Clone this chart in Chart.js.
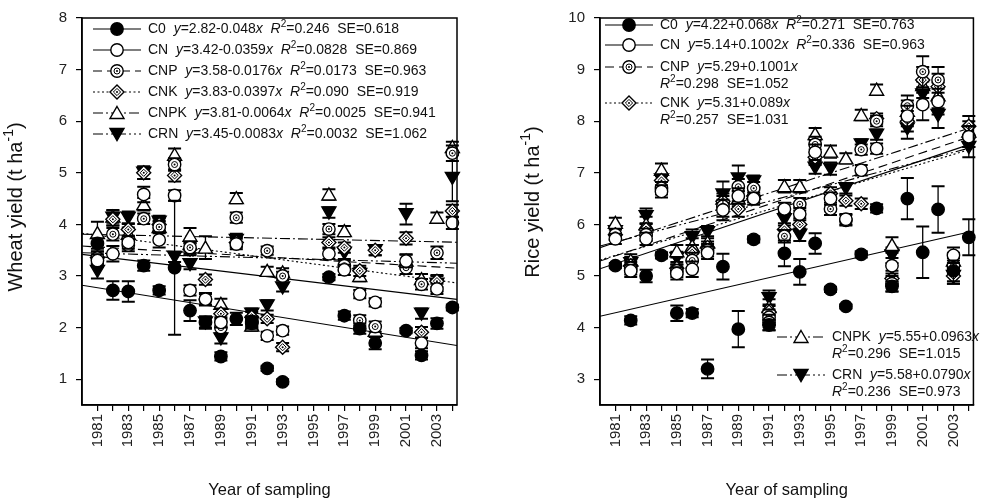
<!DOCTYPE html>
<html>
<head>
<meta charset="utf-8">
<script src="https://cdn.jsdelivr.net/npm/chart.js@4.4.0/dist/chart.umd.min.js"></script>
<style>
  html, body { margin: 0; padding: 0; background: #fff; }
  #wrap { position: relative; width: 990px; height: 500px; }
  canvas { position: absolute; top: 0; }
</style>
</head>
<body>
<div id="wrap">
  <canvas id="wheat" width="495" height="500" style="left:0"></canvas>
  <canvas id="rice" width="495" height="500" style="left:495px"></canvas>
</div>
<script>
// sampling years (null = no sample that year)
const years = [1981, 1982, 1983, 1984, 1985, 1986, 1987, 1988, 1989, 1990, 1991, 1992,
               1993, 1994, 1995, 1996, 1997, 1998, 1999, 2000, 2001, 2002, 2003, 2004];
const treatments = ['C0', 'CN', 'CNP', 'CNK', 'CNPK', 'CRN'];

// wheat yield, t/ha
const wheatC0   = [3.63, 2.72, 2.70, 3.20, 2.72, 3.16, 2.33, 2.10, 1.44, 2.17, 2.10, 1.21, 0.95, null, null, 2.98, 2.23, 1.98, 1.70, null, 1.94, 1.46, 2.08, 2.39];
const wheatCN   = [3.30, 3.43, 3.65, 4.58, 3.70, 4.56, 2.72, 2.55, 2.10, 3.62, 2.12, 1.84, 1.94, null, null, 3.43, 3.12, 2.65, 2.49, null, 3.29, 1.70, 2.75, 4.03];
const wheatCNP  = [3.35, 3.81, 3.60, 4.11, 3.95, 5.16, 3.55, 2.55, 2.00, 4.13, 2.08, 3.49, 3.00, null, null, 3.91, 3.20, 2.14, 2.02, null, 3.16, 2.84, 3.45, 5.38];
const wheatCNK  = [3.36, 4.10, 3.90, 5.00, 4.00, 4.95, 3.52, 2.93, 2.27, 3.65, 2.20, 2.17, 1.62, null, null, 3.65, 3.55, 3.10, 3.50, null, 3.73, 1.91, 2.90, 4.26];
const wheatCNPK = [3.83, 4.15, 3.82, 4.39, 3.95, 5.35, 3.78, 3.55, 2.46, 4.51, 2.04, 3.10, 3.07, null, null, 4.58, 3.87, 3.00, 1.94, null, 3.30, 2.94, 4.13, 5.50];
const wheatCRN  = [3.10, 4.13, 4.13, 5.00, 4.05, 3.37, 3.23, 2.10, 1.79, 3.70, 2.27, 2.43, 2.78, null, null, 4.23, 3.45, 3.04, 3.50, null, 4.20, 2.27, 2.85, 4.90];

// wheat standard errors
const wheatC0Err   = [0.10, 0.18, 0.20, 0.10, 0.08, 1.30, 0.20, 0.12, 0.08, 0.12, 0.10, 0.05, 0.05, null, null, 0.06, 0.08, 0.10, 0.12, null, 0.05, 0.08, 0.10, 0.06];
const wheatCNErr   = [0.12, 0.15, 0.12, 0.15, 0.15, 0.10, 0.10, 0.10, 0.10, 0.10, 0.10, 0.08, 0.08, null, null, 0.10, 0.10, 0.08, 0.08, null, 0.12, 0.10, 0.10, 0.12];
const wheatCNPErr  = [0.12, 0.12, 0.12, 0.10, 0.12, 0.12, 0.12, 0.12, 0.12, 0.10, 0.10, 0.08, 0.08, null, null, 0.10, 0.10, 0.10, 0.10, null, 0.12, 0.10, 0.12, 0.15];
const wheatCNKErr  = [0.12, 0.12, 0.12, 0.12, 0.12, 0.12, 0.12, 0.10, 0.10, 0.10, 0.10, 0.08, 0.08, null, null, 0.10, 0.10, 0.10, 0.10, null, 0.12, 0.10, 0.12, 0.12];
const wheatCNPKErr = [0.22, 0.12, 0.12, 0.12, 0.10, 0.12, 0.15, 0.22, 0.10, 0.10, 0.10, 0.08, 0.08, null, null, 0.10, 0.10, 0.10, 0.10, null, 0.12, 0.10, 0.10, 0.10];
const wheatCRNErr  = [0.15, 0.15, 0.12, 0.12, 0.12, 0.10, 0.10, 0.10, 0.10, 0.12, 0.10, 0.10, 0.08, null, null, 0.10, 0.12, 0.12, 0.10, null, 0.20, 0.10, 0.15, 0.45];

// rice yield, t/ha
const riceC0   = [5.20, 4.14, 5.00, 5.40, 4.28, 4.28, 3.20, 5.18, 3.97, 5.71, 4.05, 5.44, 5.08, 5.63, 4.74, 4.41, 5.42, 6.31, 4.80, 6.50, 5.46, 6.29, 5.10, 5.75];
const riceCN   = [5.72, 5.10, 5.72, 6.64, 5.05, 5.13, 5.45, 6.28, 6.55, 6.50, 4.10, 6.30, 6.20, 7.40, 6.50, 6.10, 7.05, 7.47, 5.20, 8.10, 8.32, 8.38, 5.40, 7.70];
const riceCNP  = [5.80, 5.15, 5.80, 6.70, 5.10, 5.30, 5.50, 6.35, 6.73, 6.70, 4.20, 5.77, 6.39, 7.55, 6.30, 6.08, 7.45, 8.00, 4.85, 8.30, 8.96, 8.80, 5.20, 7.70];
const riceCNK  = [5.80, 5.20, 5.90, 6.85, 5.15, 5.45, 5.55, 6.45, 6.30, 6.55, 4.30, 5.90, 6.00, 7.30, 6.60, 6.46, 6.40, 8.05, 4.95, 8.00, 8.80, 8.67, 5.00, 7.90];
const riceCNPK = [6.03, 5.30, 6.00, 7.06, 5.48, 5.58, 5.65, 6.50, 6.50, 6.60, 4.40, 6.74, 6.74, 7.75, 7.41, 7.28, 8.12, 8.61, 5.60, 8.20, 8.70, 8.50, 5.30, 7.80];
const riceCRN  = [5.87, 5.25, 6.16, 6.87, 5.35, 5.75, 5.85, 6.58, 6.89, 6.83, 4.57, 6.10, 5.80, 7.10, 7.08, 6.70, 7.55, 7.74, 5.40, 7.86, 8.52, 8.12, 5.00, 7.50];

// rice standard errors
const riceC0Err   = [0.05, 0.08, 0.12, 0.06, 0.15, 0.08, 0.18, 0.25, 0.35, 0.06, 0.10, 0.25, 0.25, 0.20, 0.05, 0.04, 0.06, 0.08, 0.10, 0.40, 0.50, 0.45, 0.20, 0.35];
const riceCNErr   = [0.10, 0.12, 0.12, 0.12, 0.12, 0.15, 0.12, 0.20, 0.15, 0.12, 0.15, 0.12, 0.12, 0.15, 0.12, 0.10, 0.10, 0.10, 0.15, 0.20, 0.30, 0.25, 0.15, 0.20];
const riceCNPErr  = [0.10, 0.12, 0.12, 0.12, 0.12, 0.15, 0.12, 0.20, 0.15, 0.12, 0.15, 0.12, 0.12, 0.15, 0.12, 0.10, 0.10, 0.10, 0.15, 0.20, 0.30, 0.25, 0.15, 0.20];
const riceCNKErr  = [0.10, 0.12, 0.12, 0.12, 0.12, 0.15, 0.12, 0.15, 0.15, 0.12, 0.15, 0.12, 0.12, 0.15, 0.12, 0.10, 0.10, 0.10, 0.15, 0.20, 0.25, 0.25, 0.15, 0.20];
const riceCNPKErr = [0.10, 0.12, 0.15, 0.12, 0.12, 0.15, 0.12, 0.15, 0.15, 0.12, 0.15, 0.12, 0.12, 0.12, 0.12, 0.10, 0.10, 0.10, 0.15, 0.20, 0.25, 0.25, 0.15, 0.20];
const riceCRNErr  = [0.10, 0.12, 0.15, 0.12, 0.12, 0.15, 0.12, 0.25, 0.25, 0.12, 0.15, 0.12, 0.12, 0.12, 0.12, 0.10, 0.10, 0.10, 0.15, 0.20, 0.25, 0.25, 0.15, 0.20];

// regression y = a + b*x, x = years since 1980
const wheatA  = [2.82, 3.42, 3.58, 3.83, 3.81, 3.45];
const wheatB  = ['-0.048', '-0.0359', '-0.0176', '-0.0397', '-0.0064', '-0.0083'];
const wheatR2 = ['0.246', '0.0828', '0.0173', '0.090', '0.0025', '0.0032'];
const wheatSE = ['0.618', '0.869', '0.963', '0.919', '0.941', '1.062'];

const riceA  = [4.22, 5.14, 5.29, 5.31, 5.55, 5.58];
const riceB  = ['0.068', '0.1002', '0.1001', '0.089', '0.0963', '0.0790'];
const riceR2 = ['0.271', '0.336', '0.298', '0.257', '0.296', '0.236'];
const riceSE = ['0.763', '0.963', '1.052', '1.031', '1.015', '0.973'];

const wheatTicks = [1, 2, 3, 4, 5, 6, 7, 8];
const riceTicks  = [3, 4, 5, 6, 7, 8, 9, 10];

const FONT = '"Liberation Sans", Arial, sans-serif';
const X_MIN = 1980, X_MAX = 2004.3;

const markerKinds = ['dot', 'open', 'dotCircle', 'dotDiamond', 'triUp', 'triDown'];
const lineDashes = [[], [], [9, 5], [2, 2.5], [10, 3, 2, 3], [10, 3, 2, 3, 2, 3]];

function drawMarker(g, kind, x, y) {
  g.save();
  g.lineWidth = 1.4;
  g.strokeStyle = '#000';
  g.fillStyle = (kind === 'dot' || kind === 'triDown') ? '#000' : '#fff';
  g.beginPath();
  if (kind === 'dot' || kind === 'open' || kind === 'dotCircle') {
    g.arc(x, y, 6.2, 0, Math.PI * 2);
  } else if (kind === 'dotDiamond') {
    g.moveTo(x, y - 7); g.lineTo(x + 7, y); g.lineTo(x, y + 7); g.lineTo(x - 7, y); g.closePath();
  } else if (kind === 'triUp') {
    g.moveTo(x, y - 6.5); g.lineTo(x + 7, y + 5.5); g.lineTo(x - 7, y + 5.5); g.closePath();
  } else {
    g.moveTo(x - 7, y - 5.5); g.lineTo(x + 7, y - 5.5); g.lineTo(x, y + 6.5); g.closePath();
  }
  g.fill(); g.stroke();
  if (kind === 'dotCircle') {
    g.beginPath(); g.arc(x, y, 3, 0, Math.PI * 2); g.lineWidth = 1; g.stroke();
    g.beginPath(); g.arc(x, y, 1, 0, Math.PI * 2); g.fillStyle = '#000'; g.fill();
  }
  if (kind === 'dotDiamond') {
    g.beginPath(); g.moveTo(x, y - 3.6); g.lineTo(x + 3.6, y); g.lineTo(x, y + 3.6); g.lineTo(x - 3.6, y); g.closePath();
    g.lineWidth = 1; g.stroke();
    g.beginPath(); g.arc(x, y, 1, 0, Math.PI * 2); g.fillStyle = '#000'; g.fill();
  }
  g.restore();
}

function drawRich(ctx, x, y, segs, size) {
  segs.forEach(([t, st]) => {
    let f = size + 'px ' + FONT, dy = 0;
    if (st === 'i') f = 'italic ' + f;
    if (st === 's') { f = Math.round(size * 0.72) + 'px ' + FONT; dy = -size * 0.36; }
    ctx.font = f;
    ctx.fillText(t, x, y + dy);
    x += ctx.measureText(t).width;
  });
  return x;
}
function richWidth(ctx, segs, size) {
  let w = 0;
  segs.forEach(([t, st]) => {
    let f = size + 'px ' + FONT;
    if (st === 'i') f = 'italic ' + f;
    if (st === 's') f = Math.round(size * 0.72) + 'px ' + FONT;
    ctx.font = f;
    w += ctx.measureText(t).width;
  });
  return w;
}

function eqSegs(name, a, b) {
  const bt = b.startsWith('-') ? b : '+' + b;
  return [[name + '  ', 'n'], ['y', 'i'], ['=' + a.toFixed(2) + bt, 'n'], ['x', 'i']];
}
function statSegs(r2, se) {
  return [['R', 'i'], ['2', 's'], ['=' + r2 + '  SE=' + se, 'n']];
}

// error bars under each series, markers on top (positions come from the chart's point elements)
const errorBars = {
  id: 'errorBars',
  beforeDatasetDraw(chart, args) {
    const ds = chart.data.datasets[args.index];
    if (!ds.kind) return;
    const ctx = chart.ctx, ys = chart.scales.y;
    ctx.save();
    ctx.strokeStyle = '#000';
    args.meta.data.forEach((el, i) => {
      const p = ds.data[i];
      if (!p.e) return;
      const x = el.x;
      const y1 = ys.getPixelForValue(p.y + p.e), y2 = ys.getPixelForValue(p.y - p.e);
      ctx.lineWidth = 1.3;
      ctx.beginPath(); ctx.moveTo(x, y1); ctx.lineTo(x, y2); ctx.stroke();
      ctx.lineWidth = 2;
      ctx.beginPath();
      ctx.moveTo(x - 6.5, y1); ctx.lineTo(x + 6.5, y1);
      ctx.moveTo(x - 6.5, y2); ctx.lineTo(x + 6.5, y2);
      ctx.stroke();
    });
    ctx.restore();
  },
  afterDatasetDraw(chart, args) {
    const ds = chart.data.datasets[args.index];
    if (!ds.kind) return;
    args.meta.data.forEach(el => drawMarker(chart.ctx, ds.kind, el.x, el.y));
  }
};

const decorations = {
  id: 'decorations',
  afterDraw(chart, args, opts) {
    const ctx = chart.ctx, a = chart.chartArea;
    ctx.save();
    ctx.strokeStyle = '#000';
    ctx.lineWidth = 1.5;
    ctx.strokeRect(a.left, a.top, a.right - a.left, a.bottom - a.top);

    ctx.fillStyle = '#111';
    ctx.textBaseline = 'middle';

    // axis titles
    const xt = [['Year of sampling', 'n']];
    drawRich(ctx, (a.left + a.right) / 2 - richWidth(ctx, xt, 16.5) / 2, 490, xt, 16.5);
    const yt = [[opts.yTitle + ' (t ha', 'n'], ['-1', 's'], [')', 'n']];
    ctx.save();
    ctx.translate(opts.yTitleX, opts.yTitleY);
    ctx.rotate(-Math.PI / 2);
    drawRich(ctx, -richWidth(ctx, yt, 20) / 2, 0, yt, 20);
    ctx.restore();

    // legend
    opts.legend.forEach(item => {
      ctx.save();
      ctx.strokeStyle = '#000';
      ctx.lineWidth = 1.1;
      ctx.setLineDash(lineDashes[item.k]);
      ctx.beginPath(); ctx.moveTo(item.x1, item.y); ctx.lineTo(item.x2, item.y); ctx.stroke();
      ctx.restore();
      drawMarker(ctx, markerKinds[item.k], (item.x1 + item.x2) / 2, item.y);
      item.lines.forEach((segs, j) => drawRich(ctx, item.tx, item.y + j * 17, segs, 14));
    });
    ctx.restore();
  }
};

function buildDatasets(series, errs, A, B) {
  const sets = [];
  series.forEach((vals, k) => {
    sets.push({
      type: 'scatter',
      label: treatments[k],
      kind: markerKinds[k],
      pointRadius: 0,
      pointHoverRadius: 0,
      data: years.map((yr, i) => ({ x: yr, y: vals[i], e: errs[k][i] })).filter(p => p.y != null)
    });
  });
  A.forEach((a, k) => {
    const b = parseFloat(B[k]);
    sets.push({
      type: 'line',
      label: treatments[k] + ' fit',
      data: [{ x: X_MIN, y: a }, { x: X_MAX, y: a + b * (X_MAX - X_MIN) }],
      borderColor: '#000',
      borderWidth: 1.1,
      borderDash: lineDashes[k],
      pointRadius: 0,
      fill: false
    });
  });
  return sets;
}

function makeScales(yMin, yMax, yTicks, yWidth) {
  return {
    x: {
      type: 'linear', min: X_MIN, max: X_MAX,
      afterBuildTicks: s => { s.ticks = years.map(v => ({ value: v })); },
      afterFit: s => { s.height = 95; },
      grid: { drawOnChartArea: false, drawTicks: true, tickLength: 6, color: '#000', lineWidth: 1.2 },
      border: { color: '#000', width: 1.5 },
      ticks: {
        autoSkip: false, minRotation: 90, maxRotation: 90, padding: 3, color: '#222',
        font: { family: FONT, size: 15 },
        callback: v => (v % 2 ? String(v) : '')
      }
    },
    y: {
      type: 'linear', min: yMin, max: yMax,
      afterBuildTicks: s => { s.ticks = yTicks.map(v => ({ value: v })); },
      afterFit: s => { s.width = yWidth; },
      grid: { drawOnChartArea: false, drawTicks: true, tickLength: 6, color: '#000', lineWidth: 1.2 },
      border: { color: '#000', width: 1.5 },
      ticks: { padding: 9, color: '#222', font: { family: FONT, size: 15 } }
    }
  };
}

function makeChart(id, cfg) {
  return new Chart(document.getElementById(id), {
    type: 'scatter',
    data: { datasets: buildDatasets(cfg.series, cfg.errs, cfg.A, cfg.B) },
    options: {
      responsive: false,
      animation: false,
      devicePixelRatio: 1,
      layout: { autoPadding: false, padding: cfg.padding },
      scales: makeScales(cfg.yMin, cfg.yMax, cfg.yTicks, cfg.yWidth),
      plugins: {
        legend: { display: false },
        tooltip: { enabled: false },
        decorations: cfg.deco
      }
    },
    plugins: [errorBars, decorations]
  });
}

// left panel: wheat
const wheatLegend = treatments.map((t, k) => ({
  k, x1: 93, x2: 141, tx: 148, y: 29 + k * 21,
  lines: [eqSegs(t, wheatA[k], wheatB[k]).concat([['  ', 'n']], statSegs(wheatR2[k], wheatSE[k]))]
}));

makeChart('wheat', {
  series: [wheatC0, wheatCN, wheatCNP, wheatCNK, wheatCNPK, wheatCRN],
  errs: [wheatC0Err, wheatCNErr, wheatCNPErr, wheatCNKErr, wheatCNPKErr, wheatCRNErr],
  A: wheatA, B: wheatB,
  yMin: 0.5, yMax: 8, yTicks: wheatTicks, yWidth: 82,
  padding: { left: 0, top: 16, right: 38, bottom: 0 },
  deco: { yTitle: 'Wheat yield', yTitleX: 16, yTitleY: 207, legend: wheatLegend }
});

// right panel: rice
const riceLegendPos = [
  { x1: 110, tx: 165, y: 25, split: false },
  { x1: 110, tx: 165, y: 45, split: false },
  { x1: 110, tx: 165, y: 67, split: true },
  { x1: 110, tx: 165, y: 103, split: true },
  { x1: 282, tx: 337, y: 337, split: true },
  { x1: 282, tx: 337, y: 375, split: true }
];
const riceLegend = treatments.map((t, k) => {
  const p = riceLegendPos[k];
  const eq = eqSegs(t, riceA[k], riceB[k]);
  const st = statSegs(riceR2[k], riceSE[k]);
  return {
    k, x1: p.x1, x2: p.x1 + 48, tx: p.tx, y: p.y,
    lines: p.split ? [eq, st] : [eq.concat([['  ', 'n']], st)]
  };
});

makeChart('rice', {
  series: [riceC0, riceCN, riceCNP, riceCNK, riceCNPK, riceCRN],
  errs: [riceC0Err, riceCNErr, riceCNPErr, riceCNKErr, riceCNPKErr, riceCRNErr],
  A: riceA, B: riceB,
  yMin: 2.5, yMax: 10, yTicks: riceTicks, yWidth: 105,
  padding: { left: 0, top: 16, right: 15, bottom: 0 },
  deco: { yTitle: 'Rice yield', yTitleX: 38, yTitleY: 202, legend: riceLegend }
});
</script>
</body>
</html>
